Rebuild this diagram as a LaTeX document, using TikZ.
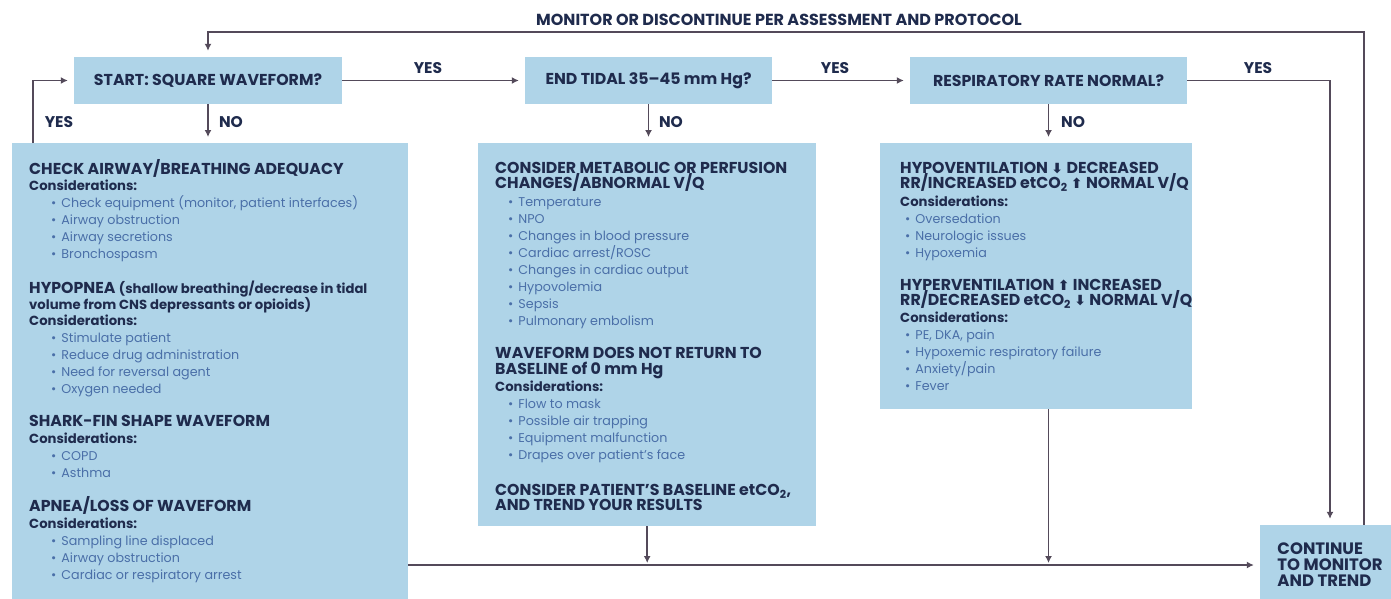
\documentclass[tikz,border=0pt]{standalone}
\usepackage{fontspec}
\setmainfont{Poppins}
\newfontfamily\arrowfont{DejaVu Sans}
\usetikzlibrary{arrows.meta}
\definecolor{boxblue}{HTML}{AFD4E8}
\definecolor{navy}{HTML}{1F2B4D}
\definecolor{itemblue}{HTML}{4A6FA8}
\definecolor{linec}{HTML}{544A5A}
\newcommand\hd[1]{{\fontsize{15.8}{15}\selectfont\bfseries\color{navy}#1}}
\newcommand\cns{{\fontsize{13.2}{15}\selectfont\bfseries\color{navy}Considerations:}}
\newcommand\sub[1]{{\fontsize{13.2}{15}\selectfont\bfseries\color{navy}#1}}
\newcommand\dnarr{{\arrowfont\bfseries\fontsize{14}{14}\selectfont ⬇}}
\newcommand\uparr{{\arrowfont\bfseries\fontsize{14}{14}\selectfont ⬆}}
\newcommand\itL{\itemx{22pt}}
\newcommand\itM{\itemx{13pt}}
\newcommand\itR{\itemx{5pt}}
\newcommand\itemx[2]{\hspace*{#1}{\color{itemblue}•\hspace{5pt}#2}}
\begin{document}
\begin{tikzpicture}[x=1pt,y=-1pt,
  box/.style={fill=boxblue, draw=none, inner sep=0pt},
  qbox/.style={box, font=\fontsize{15.8}{15}\selectfont\bfseries\color{navy}, minimum height=47pt},
  sect/.style={anchor=base west, inner sep=0pt, align=left, font=\fontsize{12.7}{17}\selectfont\color{itemblue}},
  lbl/.style={font=\fontsize{15.5}{15}\selectfont\bfseries\color{navy}, inner sep=0pt},
  arr/.style={draw=linec, line width=1.6pt, -{Latex[length=7pt,width=7pt]}, shorten >=6pt},
  ln/.style={draw=linec, line width=1.6pt}]
\useasboundingbox (0,0) rectangle (1391,598);
\fill[white] (0,0) rectangle (1391,598);

% question boxes
\node[qbox, minimum width=268pt] (start) at (208,80.5) {START: SQUARE WAVEFORM?};
\node[qbox, minimum width=247pt] (tidal) at (648.5,80.5) {END TIDAL 35–45 mm Hg?};
\node[qbox, minimum width=277pt] (resp) at (1048.5,80.5) {RESPIRATORY RATE NORMAL?};

% big boxes
\node[box, anchor=north west, minimum width=396pt, minimum height=462pt] (L) at (12,143) {};
\node[box, anchor=north west, minimum width=338pt, minimum height=383pt] (M) at (478,143) {};
\node[box, anchor=north west, minimum width=312pt, minimum height=266pt] (R) at (880,143) {};
\node[box, minimum width=140pt, minimum height=79pt, align=left,
      font=\fontsize{16.5}{16}\selectfont\bfseries\color{navy}] (C) at (1330,564.5)
      {CONTINUE\\TO MONITOR\\AND TREND};

% left box text (anchored at the baseline of the last line)
\node[sect] (l1) at (29,258) {\hd{CHECK AIRWAY/BREATHING ADEQUACY}\\[-1pt]
  \cns\\
  \itL{Check equipment (monitor, patient interfaces)}\\
  \itL{Airway obstruction}\\
  \itL{Airway secretions}\\
  \itL{Bronchospasm}};
\node[sect] (l2) at (29,393) {\hd{HYPOPNEA} \sub{(shallow breathing/decrease in tidal}\\[-1pt]
  \sub{volume from CNS depressants or opioids)}\\[-1pt]
  \cns\\
  \itL{Stimulate patient}\\
  \itL{Reduce drug administration}\\
  \itL{Need for reversal agent}\\
  \itL{Oxygen needed}};
\node[sect] (l3) at (29,477) {\hd{SHARK-FIN SHAPE WAVEFORM}\\
  \cns\\
  \itL{COPD}\\
  \itL{Asthma}};
\node[sect] (l4) at (29,579) {\hd{APNEA/LOSS OF WAVEFORM}\\
  \cns\\
  \itL{Sampling line displaced}\\
  \itL{Airway obstruction}\\
  \itL{Cardiac or respiratory arrest}};

% middle box text
\node[sect] (m1) at (495,325) {\hd{CONSIDER METABOLIC OR PERFUSION}\\[-2pt]
  \hd{CHANGES/ABNORMAL V/Q}\\[1pt]
  \itM{Temperature}\\
  \itM{NPO}\\
  \itM{Changes in blood pressure}\\
  \itM{Cardiac arrest/ROSC}\\
  \itM{Changes in cardiac output}\\
  \itM{Hypovolemia}\\
  \itM{Sepsis}\\
  \itM{Pulmonary embolism}};
\node[sect] (m2) at (495,459) {\hd{WAVEFORM DOES NOT RETURN TO}\\[-1pt]
  \hd{BASELINE of 0 mm Hg}\\
  \cns\\
  \itM{Flow to mask}\\
  \itM{Possible air trapping}\\
  \itM{Equipment malfunction}\\
  \itM{Drapes over patient’s face}};
\node[sect] (m3) at (495,510) {\hd{CONSIDER PATIENT’S BASELINE etCO\textsubscript{2},}\\[-2pt]
  \hd{AND TREND YOUR RESULTS}};

% right box text
\node[sect] (r1) at (900,257) {\hd{HYPOVENTILATION \dnarr\ DECREASED}\\[-2pt]
  \hd{RR/INCREASED etCO\textsubscript{2} \uparr\ NORMAL V/Q}\\[1pt]
  \cns\\
  \itR{Oversedation}\\
  \itR{Neurologic issues}\\
  \itR{Hypoxemia}};
\node[sect] (r2) at (900,390) {\hd{HYPERVENTILATION \uparr\ INCREASED}\\[-2pt]
  \hd{RR/DECREASED etCO\textsubscript{2} \dnarr\ NORMAL V/Q}\\
  \cns\\
  \itR{PE, DKA, pain}\\
  \itR{Hypoxemic respiratory failure}\\
  \itR{Anxiety/pain}\\
  \itR{Fever}};

% helper coordinates
\coordinate (tp) at (700,32);
\coordinate (hl) at (0,565);

% connectors
\draw[arr] (start.east) -- (tidal.west);
\draw[arr] (tidal.east) -- (resp.west);
\draw[arr] (resp.east) -| (C.north);
\draw[arr] (start.south) -- (start.south |- L.north);
\draw[arr] (tidal.south) -- (tidal.south |- M.north);
\draw[arr] (resp.south) -- (resp.south |- R.north);
\draw[arr] ([xshift=21pt]L.north west) |- (start.west);
\draw[arr] ([xshift=34pt]C.north) |- (tp) -| (start.north);
\draw[arr, shorten >=2pt] (M.south) -- (M.south |- hl);
\draw[arr, shorten >=2pt] (resp.south |- R.south) -- (resp.south |- hl);
\draw[arr] (L.east |- hl) -- (C.west |- hl);

% labels
\node[lbl] (y1) at (428,68) {YES};
\node[lbl] (y2) at (835,68) {YES};
\node[lbl] (y3) at (1258,68) {YES};
\node[lbl] (y4) at (59,122) {YES};
\node[lbl] (n1) at (231,122) {NO};
\node[lbl] (n2) at (671,122) {NO};
\node[lbl] (n3) at (1073,122) {NO};
\node[lbl, font=\fontsize{16}{16}\selectfont\bfseries\color{navy}] (mon) at (779,20) {MONITOR OR DISCONTINUE PER ASSESSMENT AND PROTOCOL};
\end{tikzpicture}
\end{document}
